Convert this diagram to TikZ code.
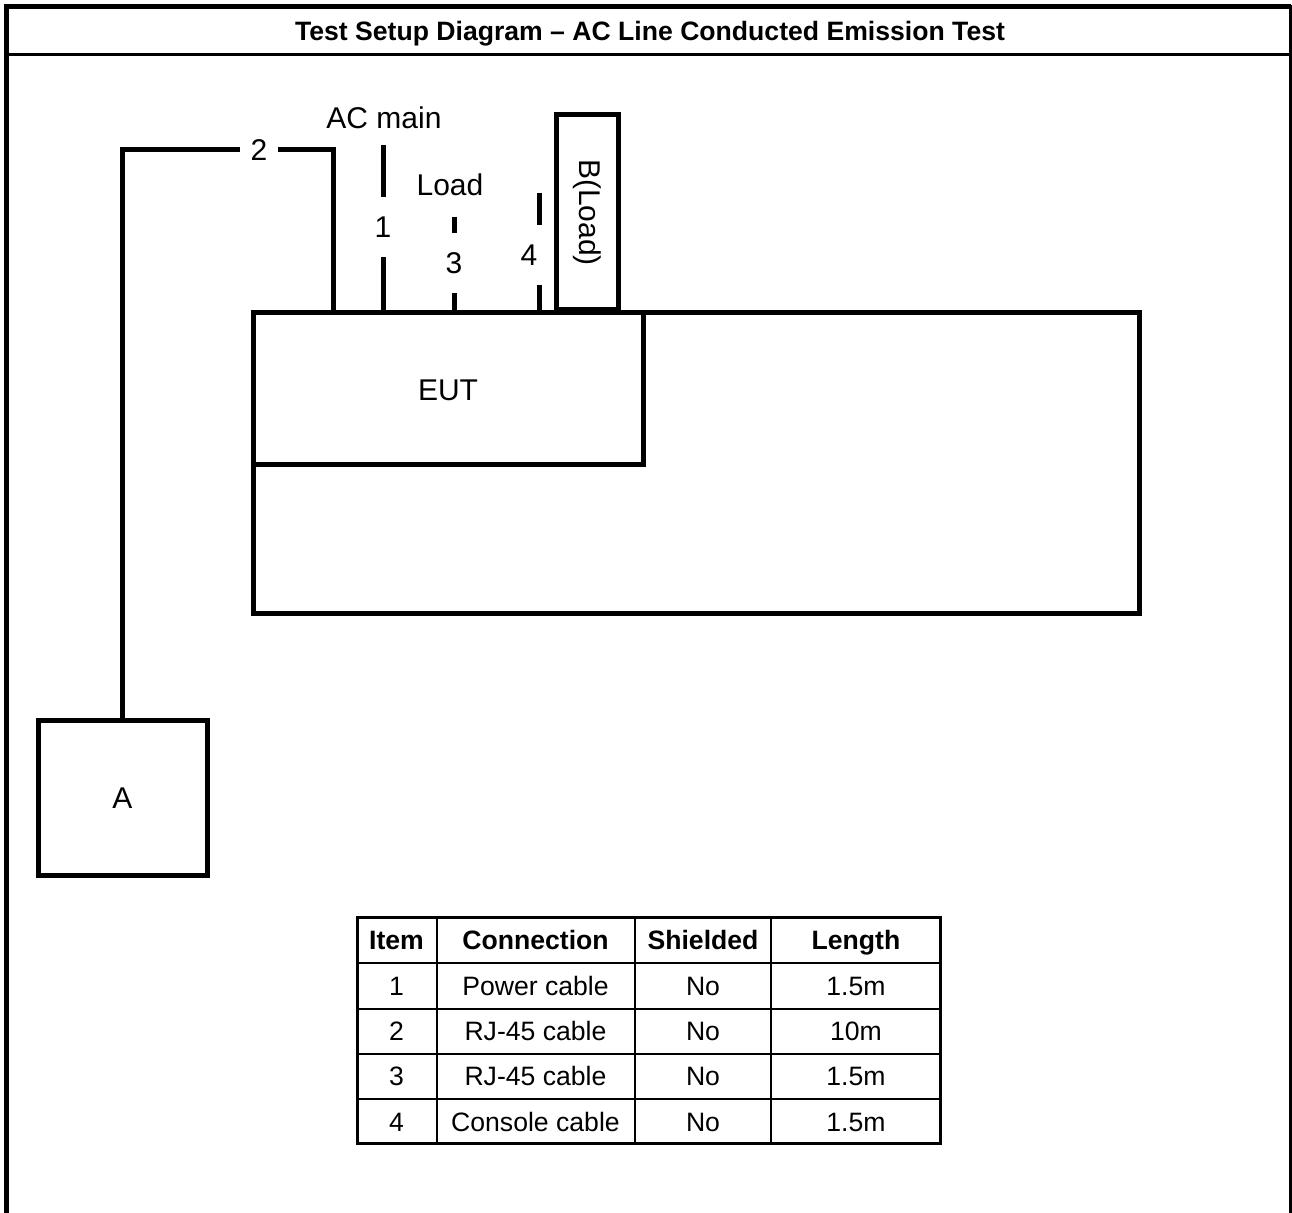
\documentclass[tikz,border=0pt]{standalone}
\usepackage{fontspec}
\setmainfont{Liberation Sans}
\usetikzlibrary{positioning,calc}

\tikzset{
  cable/.style={line width=2.5pt},
  unit/.style={draw, line width=2.5pt, inner sep=0pt, outer sep=0pt},
  lbl/.style={font=\fontsize{15}{18}\selectfont, inner sep=0pt},
  cell/.style={font=\fontsize{13.3}{16}\selectfont, text height=9.6pt, text depth=2.6pt, inner sep=0pt},
  headcell/.style={cell, font=\bfseries\fontsize{13.3}{16}\selectfont},
}

\begin{document}
\begin{tikzpicture}[x=0.5pt,y=-0.5pt]
  \useasboundingbox (0,0) rectangle (1292,1213);

  % outer frame and title
  \draw[line width=2.5pt] (6.5,1213) -- (6.5,6.5) -- (1290.5,6.5);
  \draw[line width=1.5pt] (1290.5,5) -- (1290.5,1213);
  \draw[line width=1.25pt] (6.5,54.5) -- (1290.5,54.5);
  \node[font=\bfseries\fontsize{13.3}{16}\selectfont] (title) at (650,34) {Test Setup Diagram – AC Line Conducted Emission Test};

  % table top and equipment
  \node[unit, minimum width=443pt, minimum height=150.5pt, anchor=north west] (bench) at (253,313) {};
  \node[unit, lbl, minimum width=195pt, minimum height=76pt, anchor=north west] (eut) at (253,313) {};
  \node[lbl] (euttext) at (448,390) {EUT};
  \node[unit, lbl, rotate=-90, minimum width=97.5pt, minimum height=31pt] (loadB) at (587,212.5) {B(Load)};
  \node[unit, lbl, minimum width=84.5pt, minimum height=77.5pt] (boxA) at (122.5,798.5) {A};

  % cable 2
  \node[lbl, minimum width=19pt] (lbl2) at (259,150) {2};
  \coordinate (c2) at (333,313);
  \draw[cable] (boxA.north) |- (lbl2);
  \draw[cable] (lbl2) -| (c2);

  % cable 1
  \node[lbl] (acmain) at (384,118) {AC main};
  \coordinate (c1top) at (383,145);
  \coordinate (c1bot) at (383,313);
  \node[lbl, minimum height=30pt] (lbl1) at (383,227) {1};
  \draw[cable] (c1top) -- (lbl1);
  \draw[cable] (lbl1) -- (c1bot);

  % cable 3
  \node[lbl] (load) at (450,185) {Load};
  \coordinate (c3top) at (454,217);
  \coordinate (c3bot) at (454,313);
  \node[lbl, minimum height=30pt] (lbl3) at (454,263) {3};
  \draw[cable] (c3top) -- (lbl3);
  \draw[cable] (lbl3) -- (c3bot);

  % cable 4
  \node[lbl] (lbl4) at (529,255) {4};
  \coordinate (c4top) at (539,193);
  \coordinate (c4a) at (539,225);
  \coordinate (c4b) at (539,285);
  \coordinate (c4bot) at (539,313);
  \draw[cable] (c4top) -- (c4a);
  \draw[cable] (c4b) -- (c4bot);

  % cable list
  \draw[line width=1.5pt] (357.5,917.5) rectangle (940.5,1143.5);
  \foreach \x in {436.5,635,771}
    \draw[line width=1pt] (\x,917.5) -- (\x,1143.5);
  \foreach \y in {963,1009,1054,1099}
    \draw[line width=1pt] (357.5,\y) -- (940.5,\y);
  \node[headcell] (hitem) at (396.5,942.5) {Item};
  \node[headcell] (hconn) at (535.5,942.5) {Connection};
  \node[headcell] (hshd) at (703,942.5) {Shielded};
  \node[headcell] (hlen) at (856,942.5) {Length};
  \foreach \num/\conn/\shd/\lgth [count=\i] in {1/Power cable/No/1.5m, 2/RJ-45 cable/No/10m, 3/RJ-45 cable/No/1.5m, 4/Console cable/No/1.5m} {
    \pgfmathsetmacro\yc{943+45.25*\i}
    \node[cell] (item-\i) at (396.5,\yc) {\num};
    \node[cell] (conn-\i) at (535.5,\yc) {\conn};
    \node[cell] (shd-\i) at (703,\yc) {\shd};
    \node[cell] (len-\i) at (856,\yc) {\lgth};
  }
\end{tikzpicture}
\end{document}
